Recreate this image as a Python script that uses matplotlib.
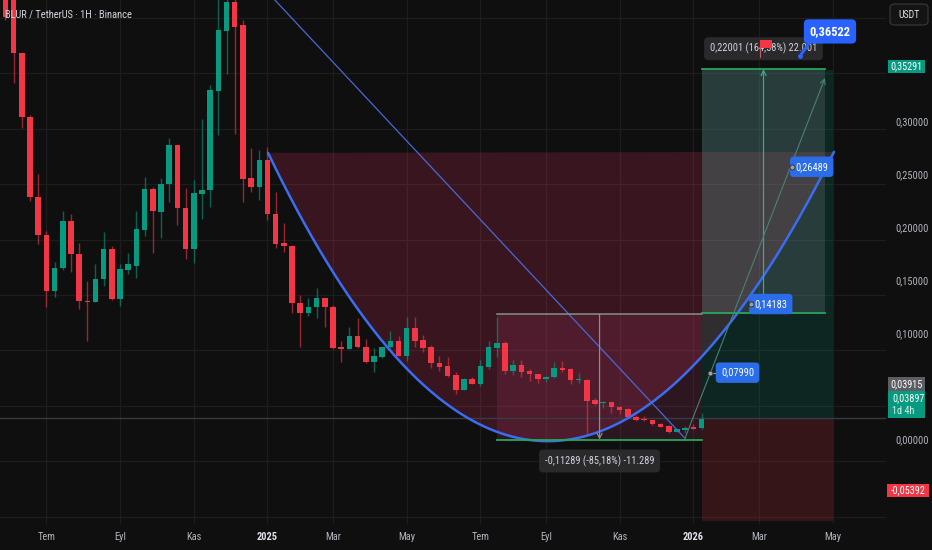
import datetime as dt
import numpy as np
import matplotlib
matplotlib.use("Agg")
import matplotlib.pyplot as plt
from matplotlib.patches import Rectangle, FancyBboxPatch
from matplotlib.ticker import FuncFormatter

# ---------------- data (weekly candles, BLUR/USDT) ----------------
start_week = dt.date(2024, 5, 13)

opens = [0.353, 0.430, 0.420, 0.3682, 0.3103, 0.2387, 0.2044, 0.1537, 0.1741, 0.2168,
         0.1870, 0.1446, 0.1440, 0.1642, 0.1913, 0.1464, 0.1726, 0.1765, 0.2087, 0.2456,
         0.2249, 0.2499, 0.2853, 0.2282, 0.1915, 0.2411, 0.2445, 0.3340, 0.3881, 0.4145,
         0.3935, 0.2553, 0.2477, 0.2718, 0.2231, 0.1967, 0.1942, 0.1426, 0.1341, 0.1395,
         0.1471, 0.1395, 0.1032, 0.1014, 0.1133, 0.1029, 0.0899, 0.0944, 0.1029, 0.1086,
         0.0953, 0.1200, 0.1095, 0.1029, 0.0885, 0.0860, 0.0776, 0.0647, 0.0743, 0.0698,
         0.0854, 0.1025, 0.1070, 0.0815, 0.0872, 0.0818, 0.0788, 0.0746, 0.0758, 0.0839,
         0.0830, 0.0731, 0.0734, 0.0554, 0.0524, 0.0536, 0.0493, 0.0470, 0.0403, 0.0380,
         0.0373, 0.0337, 0.0319, 0.0268, 0.0283, 0.0307, 0.0298]
closes = [0.425, 0.4007, 0.3682, 0.3103, 0.2387, 0.2044, 0.1537, 0.1741, 0.2168, 0.1870,
          0.1446, 0.1437, 0.1642, 0.1913, 0.1464, 0.1732, 0.1777, 0.2093, 0.2456, 0.2255,
          0.2501, 0.2853, 0.2282, 0.1915, 0.2418, 0.2447, 0.3349, 0.3890, 0.4145, 0.3920,
          0.2546, 0.2477, 0.2718, 0.2228, 0.1960, 0.1942, 0.1426, 0.1341, 0.1395, 0.1471,
          0.1395, 0.1025, 0.1014, 0.1133, 0.1029, 0.0899, 0.0950, 0.1029, 0.1086, 0.0953,
          0.1200, 0.1088, 0.1025, 0.0885, 0.0854, 0.0770, 0.0641, 0.0743, 0.0698, 0.0860,
          0.1032, 0.1070, 0.0815, 0.0872, 0.0809, 0.0785, 0.0743, 0.0764, 0.0839, 0.0824,
          0.0734, 0.0737, 0.0545, 0.0518, 0.0538, 0.0493, 0.0463, 0.0398, 0.0373, 0.0371,
          0.0335, 0.0313, 0.0268, 0.0289, 0.0304, 0.0295, 0.0382]
highs = [0.430, 0.432, 0.425, 0.3682, 0.3121, 0.2589, 0.2078, 0.1795, 0.2258, 0.2231,
         0.1972, 0.1627, 0.1777, 0.2066, 0.1942, 0.1777, 0.1876, 0.2258, 0.2565, 0.2477,
         0.2553, 0.2913, 0.2853, 0.2468, 0.2537, 0.3085, 0.3394, 0.421, 0.425, 0.425,
         0.3980, 0.2829, 0.2808, 0.2838, 0.2427, 0.2147, 0.1951, 0.1500, 0.1471, 0.1561,
         0.1471, 0.1410, 0.1086, 0.1215, 0.1290, 0.1101, 0.1025, 0.1034, 0.1179, 0.1133,
         0.1299, 0.1299, 0.1140, 0.1050, 0.0950, 0.0939, 0.0809, 0.0750, 0.0758, 0.0914,
         0.1083, 0.1299, 0.1088, 0.0914, 0.0914, 0.0830, 0.0790, 0.0770, 0.0894, 0.0905,
         0.0839, 0.0794, 0.0740, 0.0569, 0.0545, 0.0540, 0.0500, 0.0479, 0.0418, 0.0409,
         0.0375, 0.0344, 0.0328, 0.0292, 0.0319, 0.0335, 0.0439]
lows = [0.351, 0.398, 0.3412, 0.3009, 0.2348, 0.1958, 0.1395, 0.1485, 0.1726, 0.1711,
        0.1374, 0.1088, 0.1437, 0.1584, 0.1455, 0.1401, 0.1687, 0.1656, 0.2035, 0.1882,
        0.2012, 0.2342, 0.2132, 0.1822, 0.1792, 0.2183, 0.2291, 0.2943, 0.3493, 0.2952,
        0.2342, 0.2432, 0.2357, 0.2177, 0.1927, 0.1885, 0.1341, 0.1034, 0.1311, 0.1290,
        0.1215, 0.1011, 0.0899, 0.1010, 0.1020, 0.0885, 0.0809, 0.0930, 0.1020, 0.0948,
        0.0908, 0.1029, 0.0989, 0.0845, 0.0818, 0.0758, 0.0605, 0.0640, 0.0695, 0.0680,
        0.0830, 0.0944, 0.0785, 0.0779, 0.0764, 0.0728, 0.0710, 0.0719, 0.0755, 0.0803,
        0.0698, 0.0704, 0.0238, 0.0509, 0.0484, 0.0434, 0.0427, 0.0395, 0.0367, 0.0368,
        0.0328, 0.0307, 0.0259, 0.0266, 0.0253, 0.0293, 0.0296]

tick_months = ["2024-07-01", "2024-09-01", "2024-11-01", "2025-01-01", "2025-03-01", "2025-05-01",
               "2025-07-01", "2025-09-01", "2025-11-01", "2026-01-01", "2026-03-01", "2026-05-01"]
tick_labels = ["Tem", "Eyl", "Kas", "2025", "Mar", "May", "Tem", "Eyl", "Kas", "2026", "Mar", "May"]

right_ticks = [0.0, 0.10, 0.15, 0.20, 0.25, 0.30]

# trading drawings (price levels)
entry_price, target_price, stop_price = 0.03915, 0.35291, -0.05392
range1_top, range1_bot = 0.13253, 0.01964
range2_bot, range2_top = 0.13368, 0.35369
last_price, last_close_label = 0.03897, 0.03915

# ---------------- style ----------------
BG = "#0f0f0f"
GRID = "#1d1d1d"
UP = "#089981"
DOWN = "#f23645"
BLUE = "#2962ff"
TXT = "#b2b5be"
FONT = ["Liberation Sans Narrow", "Roboto Condensed", "Liberation Sans", "DejaVu Sans"]
plt.rcParams["font.family"] = FONT

W, H = 932, 550
fig = plt.figure(figsize=(W / 100, H / 100), dpi=100, facecolor=BG)
ax = fig.add_axes([0, 26 / H, 886 / W, 524 / H])
ax.set_facecolor(BG)
ax.set_xlim(0.342, 108.52)
ax.set_ylim(-0.05645, 0.41605)
for s in ax.spines.values():
    s.set_visible(False)

n = len(opens)
idx = np.arange(n)
o = np.array(opens); c = np.array(closes); hi = np.array(highs); lo = np.array(lows)


def bar_of(date_str):
    d = dt.date.fromisoformat(date_str)
    days = (d - start_week).days
    return int(np.ceil(days / 7)) - 1


tick_pos = [bar_of(m) for m in tick_months]
ax.set_xticks(tick_pos)
ax.set_xticklabels(tick_labels)
ax.set_yticks(np.arange(-0.05, 0.401, 0.05))
ax.tick_params(axis="y", length=0, labelleft=False)
ax.tick_params(axis="x", length=0, pad=6, labelsize=7.5, labelcolor=TXT)
for lab in ax.get_xticklabels():
    if lab.get_text() in ("2025", "2026"):
        lab.set_color("#e0e3eb")
        lab.set_fontweight("bold")
ax.grid(True, color=GRID, lw=0.9)
ax.set_axisbelow(True)

# ---------------- drawings: fills ----------------
# curve (quadratic bezier) with fill between chord and curve
P0 = (33.07, 0.2782); P1 = (66.89, -0.2422); P2 = (102.17, 0.2791)
t = np.linspace(0, 1, 300)
bx = (1 - t) ** 2 * P0[0] + 2 * t * (1 - t) * P1[0] + t ** 2 * P2[0]
by = (1 - t) ** 2 * P0[1] + 2 * t * (1 - t) * P1[1] + t ** 2 * P2[1]
ax.fill(bx, by, color="#f23667", alpha=0.19, lw=0, zorder=1)

# long position
L0, L1 = 86.06, 102.05
ax.add_patch(Rectangle((L0, entry_price), L1 - L0, target_price - entry_price,
                       fc=UP, alpha=0.17, lw=0, zorder=1))
ax.add_patch(Rectangle((L0, stop_price), L1 - L0, entry_price - stop_price,
                       fc=DOWN, alpha=0.17, lw=0, zorder=1))
ax.axhline(entry_price, color="#383b43", lw=1, zorder=1.5)

# price range 1 (down)
R0, R1 = 61.03, 86.06
ax.add_patch(Rectangle((R0, range1_bot), R1 - R0, range1_top - range1_bot,
                       fc="#c83c78", alpha=0.16, lw=0, zorder=1.2))
# price range 2 (up)
Q0, Q1 = 86.06, 101.07
ax.add_patch(Rectangle((Q0, range2_bot), Q1 - Q0, range2_top - range2_bot,
                       fc="#9598a1", alpha=0.2, lw=0, zorder=1.2))

# ---------------- candles ----------------
up = c >= o
cols = np.where(up, UP, DOWN)
ax.vlines(idx, lo, hi, colors=cols, lw=1, alpha=0.6, zorder=2.5)
body_lo = np.minimum(o, c)
body_h = np.maximum(np.abs(c - o), 0.0009)
ax.bar(idx, body_h, bottom=body_lo, width=0.68, color=cols, lw=0, zorder=3)

# ---------------- drawings: lines ----------------
ax.plot(bx, by, color="#3a6df0", lw=1.8, zorder=4, solid_capstyle="round")
ax.plot([33.55, 83.98], [0.4188, 0.0208], color="#4a68d6", lw=0.9, zorder=4)

# range 1 lines
ax.plot([R0, R1], [range1_top, range1_top], color="#7f9488", lw=1.1, zorder=4)
ax.plot([R0, R1], [range1_bot, range1_bot], color="#26a65b", lw=1.3, zorder=4)
mid1 = (R0 + R1) / 2
ax.annotate("", xy=(mid1, range1_bot), xytext=(mid1, range1_top),
            arrowprops=dict(arrowstyle="->", color="#8c8c8c", lw=0.9, mutation_scale=9,
                            shrinkA=0, shrinkB=0), zorder=4)
ax.text(mid1, 0.0004, "-0,11289 (-85,18%) -11.289", color="#d1d4dc", fontsize=7.5,
        ha="center", va="center", zorder=6,
        bbox=dict(boxstyle="round,pad=0.55,rounding_size=0.4", fc="#2a2a2d", ec="none"))

# range 2 lines
ax.plot([Q0, Q1], [range2_top, range2_top], color="#26a65b", lw=1.3, zorder=4)
ax.plot([Q0, Q1], [range2_bot, range2_bot], color="#26a65b", lw=1.3, zorder=4)
mid2 = (Q0 + Q1) / 2
ax.annotate("", xy=(mid2, range2_top), xytext=(mid2, range2_bot),
            arrowprops=dict(arrowstyle="->", color="#3fa58c", lw=0.9, mutation_scale=9,
                            shrinkA=0, shrinkB=0), zorder=4)
ax.text(mid2, 0.3721, "0,22001 (164,58%) 22.001", color="#d1d4dc", fontsize=7.5,
        ha="center", va="center", zorder=6,
        bbox=dict(boxstyle="round,pad=0.55,rounding_size=0.4", fc="#2a2a2d", ec="none"))
# flag icon
ax.plot([93.08, 93.08], [0.3645, 0.3800], color="#c0566a", lw=0.9, zorder=7)
ax.add_patch(Rectangle((93.14, 0.3728), 1.46, 0.0072, fc=DOWN, lw=0, zorder=7))

# projection arrow
ax.annotate("", xy=(101.07, 0.3457), xytext=(83.98, 0.0208),
            arrowprops=dict(arrowstyle="->", color="#4b8076", lw=0.8, mutation_scale=9,
                            shrinkA=0, shrinkB=0), zorder=4)

# callouts
def callout(ax_x, ax_y, tx, text, gap=False):
    ax.plot([ax_x], [ax_y], marker="o", ms=3.6, mfc="#9da1ab", mec="#2b2b2b", mew=0.6, zorder=7)
    if gap:
        ax.plot([ax_x, tx - 2.0], [ax_y, ax_y], color="#9da1ab", lw=0.8, zorder=6)
    ax.text(tx, ax_y, text, color="white", fontsize=7.5, ha="center", va="center", zorder=6,
            bbox=dict(boxstyle="round,pad=0.5,rounding_size=0.35", fc="#2b6de8", ec="none"))

callout(87.03, 0.0800, 90.39, "0,07990", gap=True)
callout(92.0, 0.1419, 94.45, "0,14183")
callout(97.0, 0.2657, 99.45, "0,26489")

# big label
ax.plot([98.03, 99.4], [0.3656, 0.3800], color="#2962ff", lw=2.2, zorder=7)
ax.plot([98.03], [0.3656], marker="o", ms=2.5, color="#2962ff", zorder=7)
ax.text(101.68, 0.3877, "0,36522", color="white", fontsize=9, fontweight="bold",
        ha="center", va="center", zorder=8,
        bbox=dict(boxstyle="round,pad=0.45,rounding_size=0.35", fc="#2962ff", ec="none"))

# ---------------- right price axis ----------------
ax2 = ax.twinx()
ax2.set_ylim(-0.0807, 0.41516)
ax2.set_yticks(right_ticks)
ax2.yaxis.set_major_formatter(FuncFormatter(lambda v, p: f"{v:.5f}".replace(".", ",")))
ax2.tick_params(axis="y", length=0, pad=6.5, labelsize=7.5, labelcolor=TXT)
for s in ax2.spines.values():
    s.set_visible(False)


def fig_box(x0, y0, x1, y1, fc, ec="none", round_=False, z=10):
    if round_:
        p = FancyBboxPatch((x0 / W, 1 - y1 / H), (x1 - x0) / W, (y1 - y0) / H,
                           boxstyle="round,pad=0,rounding_size=0.006", transform=fig.transFigure,
                           fc=fc, ec=ec, lw=0.8, zorder=z)
    else:
        p = Rectangle((x0 / W, 1 - y1 / H), (x1 - x0) / W, (y1 - y0) / H,
                      transform=fig.transFigure, fc=fc, ec=ec, lw=0, zorder=z)
    fig.add_artist(p)


def fig_txt(x, y, s, **kw):
    fig.text(x / W, 1 - y / H, s, zorder=11, **kw)


fmt = lambda v: f"{v:.5f}".replace(".", ",")

fig_box(888, 60, 925, 73, UP)
fig_txt(906.5, 66.5, fmt(target_price), color="white", fontsize=7.3, ha="center", va="center")
fig_box(888, 377, 925, 391, "#5d5e62")
fig_txt(906.5, 384, fmt(last_close_label), color="white", fontsize=7.3, ha="center", va="center")
fig_box(888, 391, 925, 418, UP)
fig_txt(892, 398.5, fmt(last_price), color="white", fontsize=7.3, ha="left", va="center")
fig_txt(892, 410.5, "1d 4h", color="#d8f0ea", fontsize=7.3, ha="left", va="center")
fig_box(887, 484, 929, 497, DOWN)
fig_txt(908, 490.5, fmt(stop_price), color="white", fontsize=7.3, ha="center", va="center")

# USDT button
fig_box(890, 4, 928, 25, "#141414", ec="#3a3a3d", round_=True)
fig_txt(909, 14.5, "USDT", color="#e0e3eb", fontsize=7, ha="center", va="center")

# title
fig_txt(5, 15, "BLUR / TetherUS · 1H · Binance", color="#d1d4dc", fontsize=7.6, ha="left", va="center")

fig.savefig("out.png", dpi=100, facecolor=BG)
